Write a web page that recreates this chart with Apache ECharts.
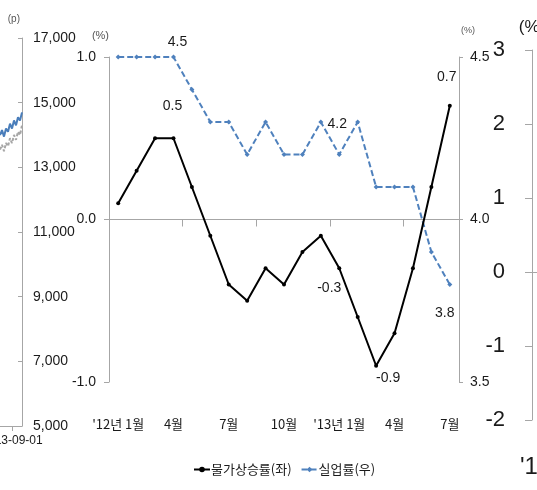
<!DOCTYPE html>
<html>
<head>
<meta charset="utf-8">
<script src="https://cdn.jsdelivr.net/npm/echarts@6/dist/echarts.min.js"></script>
<style>
  html, body { margin: 0; padding: 0; background: #fff; }
  #chart { width: 537px; height: 490px; }
</style>
</head>
<body>
<div id="chart"></div>
<script>
// Monthly categories, Jan 2012 - Jul 2013
const months = ["'12년 1월", "2월", "3월", "4월", "5월", "6월", "7월", "8월", "9월", "10월", "11월", "12월",
                "'13년 1월", "2월", "3월", "4월", "5월", "6월", "7월"];
// Consumer price inflation, % (left axis)
const inflation = [0.1, 0.3, 0.5, 0.5, 0.2, -0.1, -0.4, -0.5, -0.3, -0.4, -0.2, -0.1, -0.3, -0.6, -0.9, -0.7, -0.3, 0.2, 0.7];
// Unemployment rate, % (right axis)
const unemployment = [4.5, 4.5, 4.5, 4.5, 4.4, 4.3, 4.3, 4.2, 4.3, 4.2, 4.2, 4.3, 4.2, 4.3, 4.1, 4.1, 4.1, 3.9, 3.8];
const seriesNames = ['물가상승률(좌)', '실업률(우)'];

// Neighbouring stock-index panel (left edge)
const indexDates = ['2013-08-26', '2013-08-27', '2013-08-28', '2013-08-29', '2013-08-30', '2013-08-31',
                    '2013-09-01', '2013-09-02', '2013-09-03', '2013-09-04', '2013-09-05', '2013-09-06'];
const indexBlue = [14000, 14150, 13950, 14200, 14100, 14350, 14200, 14450, 14300, 14550, 14450, 14700];
const indexGray = [13550, 13700, 13500, 13750, 13650, 13900, 13750, 14000, 13850, 14100, 14000, 14300];
const indexTickDate = '2013-09-01';

const NUM_FONT = '"Liberation Sans", Arial, sans-serif';
const KR_FONT = '"Noto Sans CJK KR", sans-serif';
const AXIS_GRAY = '#a6a6a6';
const TEXT = '#1a1a1a';

// Value labels placed next to selected points
const inflationLabels = {
  3:  { position: 'top', distance: 23, offset: [-1, 0] },
  12: { position: 'bottom', distance: 11, offset: [-10, 0] },
  14: { position: 'bottom', distance: 3, offset: [12, 0] },
  18: { position: 'top', distance: 20, offset: [-3, 0] }
};
const unemploymentLabels = {
  3:  { position: 'top', distance: 5, offset: [4, 0] },
  12: { position: 'top', distance: 21, offset: [-2, 0] },
  18: { position: 'bottom', distance: 19, offset: [-5, 0] }
};

function withLabels(values, labels) {
  return values.map((v, i) => {
    if (!labels[i]) return v;
    return {
      value: v,
      label: Object.assign({
        show: true,
        formatter: (p) => p.value.toFixed(1),
        fontFamily: NUM_FONT,
        fontSize: 14,
        color: TEXT
      }, labels[i])
    };
  });
}

const chart = echarts.init(document.getElementById('chart'), null, { renderer: 'canvas' });
const tickIdx = indexDates.indexOf(indexTickDate);

chart.setOption({
  animation: false,
  backgroundColor: '#fff',
  grid: [
    { left: 109, top: 57, width: 350, height: 325, outerBoundsMode: 'none', containLabel: false },
    { left: 0, top: 38, width: 22, height: 388, outerBoundsMode: 'none', containLabel: false },
    { left: 532, top: 50, width: 20, height: 370, outerBoundsMode: 'none', containLabel: false }
  ],
  legend: {
    data: seriesNames,
    left: 188,
    top: 458,
    itemWidth: 16,
    itemHeight: 7,
    itemGap: 9,
    textStyle: { fontFamily: KR_FONT, fontSize: 13, color: TEXT, padding: [0, 0, 0, -4] }
  },
  xAxis: [
    {
      // line through zero with month ticks
      gridIndex: 0,
      type: 'category',
      data: months,
      position: 'bottom',
      axisLine: { onZero: true, onZeroAxisIndex: 0, lineStyle: { color: AXIS_GRAY, width: 1 } },
      axisTick: { show: true, length: 7, lineStyle: { color: AXIS_GRAY } },
      axisLabel: { show: false },
      splitLine: { show: false }
    },
    {
      // month labels along the bottom
      gridIndex: 0,
      type: 'category',
      data: months,
      position: 'bottom',
      axisLine: { show: false, onZero: false },
      axisTick: { show: false },
      axisLabel: {
        interval: 2,
        margin: 36,
        fontFamily: KR_FONT,
        fontSize: 13,
        color: TEXT
      },
      splitLine: { show: false }
    },
    {
      gridIndex: 1,
      type: 'category',
      data: indexDates,
      boundaryGap: false,
      axisLine: { onZero: false, lineStyle: { color: AXIS_GRAY } },
      axisTick: { interval: (i) => i === tickIdx, length: 5, lineStyle: { color: AXIS_GRAY } },
      axisLabel: { interval: (i) => i === tickIdx, fontFamily: NUM_FONT, fontSize: 12, color: TEXT, margin: 9 },
      splitLine: { show: false }
    },
    {
      gridIndex: 2,
      type: 'category',
      data: ['', ''],
      axisLine: { onZero: true, lineStyle: { color: AXIS_GRAY } },
      axisTick: { show: false },
      axisLabel: { show: false }
    }
  ],
  yAxis: [
    {
      gridIndex: 0,
      type: 'value',
      position: 'left',
      min: -1, max: 1, interval: 1,
      name: '(%)',
      nameLocation: 'end',
      nameGap: 16,
      nameTextStyle: { fontFamily: NUM_FONT, fontSize: 11, color: '#555', align: 'right' },
      axisLine: { show: true, lineStyle: { color: AXIS_GRAY } },
      axisTick: { show: true, length: 5, lineStyle: { color: AXIS_GRAY } },
      axisLabel: { formatter: (v) => v.toFixed(1), margin: 13, fontFamily: NUM_FONT, fontSize: 14, color: TEXT },
      splitLine: { show: false }
    },
    {
      gridIndex: 0,
      type: 'value',
      position: 'right',
      min: 3.5, max: 4.5, interval: 0.5,
      name: '(%)',
      nameLocation: 'end',
      nameGap: 22,
      nameTextStyle: { fontFamily: NUM_FONT, fontSize: 9, color: '#555', align: 'left', padding: [0, 0, 0, 2] },
      axisLine: { show: true, lineStyle: { color: AXIS_GRAY } },
      axisTick: { show: true, length: 4, lineStyle: { color: AXIS_GRAY } },
      axisLabel: { formatter: (v) => v.toFixed(1), margin: 11, fontFamily: NUM_FONT, fontSize: 14, color: TEXT },
      splitLine: { show: false }
    },
    {
      gridIndex: 1,
      type: 'value',
      position: 'right',
      min: 5000, max: 17000, interval: 2000,
      name: '(p)',
      nameLocation: 'end',
      nameGap: 14,
      nameTextStyle: { fontFamily: NUM_FONT, fontSize: 10, color: '#555', align: 'right', padding: [0, 2, 0, 0] },
      axisLine: { show: true, lineStyle: { color: AXIS_GRAY } },
      axisTick: { show: true, inside: true, length: 4, lineStyle: { color: AXIS_GRAY } },
      axisLabel: {
        formatter: (v) => v.toLocaleString('en-US'),
        margin: 11, fontFamily: NUM_FONT, fontSize: 14, color: TEXT
      },
      splitLine: { show: false }
    },
    {
      gridIndex: 2,
      type: 'value',
      position: 'left',
      min: -2, max: 3, interval: 1,
      name: '(%)',
      nameLocation: 'end',
      nameGap: 14,
      nameTextStyle: { fontFamily: NUM_FONT, fontSize: 17, color: TEXT, align: 'center' },
      axisLine: { show: true, lineStyle: { color: AXIS_GRAY } },
      axisTick: { show: true, length: 7, lineStyle: { color: AXIS_GRAY } },
      axisLabel: { margin: 27, fontFamily: NUM_FONT, fontSize: 22, color: TEXT },
      splitLine: { show: false }
    }
  ],
  series: [
    {
      name: seriesNames[0],
      type: 'line',
      xAxisIndex: 0,
      yAxisIndex: 0,
      data: withLabels(inflation, inflationLabels),
      symbol: 'circle',
      symbolSize: 4,
      itemStyle: { color: '#000' },
      lineStyle: { color: '#000', width: 2 },
      z: 3
    },
    {
      name: seriesNames[1],
      type: 'line',
      xAxisIndex: 0,
      yAxisIndex: 1,
      data: withLabels(unemployment, unemploymentLabels),
      symbol: 'diamond',
      symbolSize: 5,
      itemStyle: { color: '#4f81bd' },
      lineStyle: { color: '#4f81bd', width: 2, type: [6, 3] },
      z: 2
    },
    {
      name: 'index-gray',
      type: 'line',
      xAxisIndex: 2,
      yAxisIndex: 2,
      data: indexGray,
      symbol: 'none',
      lineStyle: { color: '#a6a6a6', width: 2, type: [3, 2] }
    },
    {
      name: 'index-blue',
      type: 'line',
      xAxisIndex: 2,
      yAxisIndex: 2,
      data: indexBlue,
      symbol: 'none',
      lineStyle: { color: '#4a7ebb', width: 2 }
    }
  ],
  graphic: [
    {
      type: 'text',
      left: 520,
      top: 455,
      style: { text: "'12", fontFamily: NUM_FONT, fontSize: 24, fill: TEXT }
    }
  ]
});
</script>
</body>
</html>
